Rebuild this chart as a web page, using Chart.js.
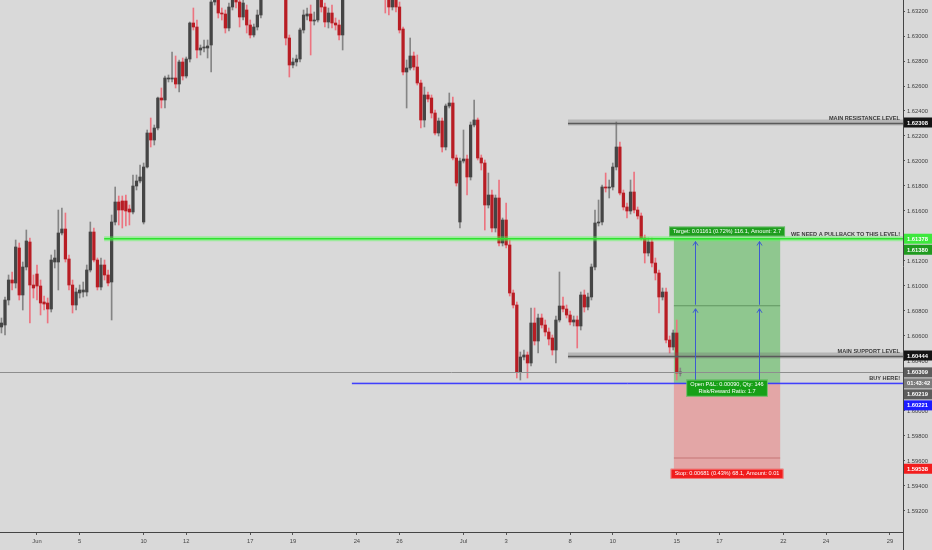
<!DOCTYPE html>
<html>
<head>
<meta charset="utf-8">
<title>4H chart - pullback setup</title>
<script src="https://cdn.jsdelivr.net/npm/chart.js@4.4.1/dist/chart.umd.min.js"></script>
<style>
    html, body { margin: 0; padding: 0; background: #d9d9d9; }
    canvas { display: block; }
</style>
</head>
<body>
<canvas id="chart" width="932" height="550"></canvas>
<script>
// 4H candles, index 0 = first bar of Jun 3, six bars per trading day
const firstIndex = -10;

const opens = [
    1.60672, 1.60688, 1.60888, 1.61048, 1.61024, 1.61304, 1.60928, 1.61152, 1.61352, 1.61008, // -10
    1.61096, 1.61000, 1.60872, 1.60864, 1.60816, 1.61192, 1.61192, 1.61424, 1.61456, 1.61216, // 0
    1.61008, 1.60848, 1.60944, 1.60952, 1.60952, 1.61128, 1.61432, 1.61208, 1.60992, 1.61168, // 10
    1.61088, 1.61032, 1.61512, 1.61672, 1.61680, 1.61680, 1.61616, 1.61592, 1.61800, 1.61840, // 20
    1.61512, 1.61952, 1.62224, 1.62168, 1.62264, 1.62504, 1.62488, 1.62656, 1.62656, 1.62664, // 30
    1.62616, 1.62792, 1.62680, 1.62816, 1.63104, 1.63072, 1.62888, 1.62904, 1.62904, 1.62928, // 40
    1.63272, 1.63320, 1.63184, 1.63176, 1.63064, 1.63232, 1.63304, 1.63272, 1.63152, 1.63208, // 50
    1.63088, 1.63008, 1.63072, 1.63168, 1.63304, 1.63408, 1.63352, 1.63488, 1.63432, 1.63368, // 60
    1.63320, 1.62984, 1.62768, 1.62792, 1.62816, 1.63048, 1.63160, 1.63176, 1.63120, 1.63128, // 70
    1.63288, 1.63232, 1.63112, 1.63184, 1.63104, 1.63088, 1.63008, 1.63312, 1.63408, 1.63496, // 80
    1.63448, 1.63576, 1.63640, 1.63568, 1.63528, 1.63592, 1.63464, 1.63416, 1.63368, 1.63304, // 90
    1.63232, 1.63312, 1.63232, 1.63056, 1.62712, 1.62744, 1.62840, 1.62752, 1.62624, 1.62328, // 100
    1.62528, 1.62504, 1.62384, 1.62224, 1.62320, 1.62112, 1.62440, 1.62464, 1.62024, 1.61512, // 110
    1.62000, 1.62016, 1.61872, 1.62288, 1.62328, 1.62024, 1.61984, 1.61648, 1.61728, 1.61464, // 120
    1.61704, 1.61344, 1.61528, 1.61328, 1.60944, 1.60848, 1.60312, 1.60432, 1.60448, 1.60384, // 130
    1.60704, 1.60560, 1.60744, 1.60688, 1.60632, 1.60584, 1.60488, 1.60728, 1.60840, 1.60816, // 140
    1.60768, 1.60712, 1.60728, 1.60680, 1.60928, 1.60832, 1.60912, 1.61152, 1.61504, 1.61512, // 150
    1.61792, 1.61784, 1.61792, 1.61952, 1.62112, 1.61744, 1.61632, 1.61600, 1.61752, 1.61608, // 160
    1.61560, 1.61384, 1.61264, 1.61352, 1.61184, 1.61104, 1.60912, 1.60952, 1.60568, 1.60512, // 170
    1.60624, 1.60304                                                                          // 180
];
const highs = [
    1.60744, 1.60912, 1.61088, 1.61112, 1.61368, 1.61344, 1.61192, 1.61448, 1.61384, 1.61088,
    1.61168, 1.61048, 1.60920, 1.60904, 1.61248, 1.61288, 1.61608, 1.61624, 1.61584, 1.61248,
    1.61048, 1.60984, 1.61008, 1.61032, 1.61168, 1.61512, 1.61464, 1.61224, 1.61224, 1.61208,
    1.61128, 1.61568, 1.61792, 1.61720, 1.61720, 1.61728, 1.61648, 1.61888, 1.61888, 1.61968,
    1.61984, 1.62248, 1.62344, 1.62288, 1.62512, 1.62584, 1.62680, 1.62688, 1.62872, 1.62840,
    1.62808, 1.62824, 1.62832, 1.63112, 1.63224, 1.63128, 1.62928, 1.62968, 1.62968, 1.63320,
    1.63384, 1.63352, 1.63224, 1.63208, 1.63264, 1.63352, 1.63352, 1.63312, 1.63304, 1.63248,
    1.63128, 1.63096, 1.63208, 1.63368, 1.63448, 1.63464, 1.63528, 1.63544, 1.63464, 1.63408,
    1.63352, 1.63008, 1.62824, 1.62848, 1.63064, 1.63208, 1.63224, 1.63248, 1.63192, 1.63328,
    1.63312, 1.63264, 1.63224, 1.63248, 1.63144, 1.63128, 1.63352, 1.63448, 1.63528, 1.63560,
    1.63608, 1.63672, 1.63688, 1.63648, 1.63624, 1.63640, 1.63528, 1.63480, 1.63408, 1.63328,
    1.63352, 1.63352, 1.63272, 1.63072, 1.62808, 1.62984, 1.62872, 1.62848, 1.62648, 1.62592,
    1.62552, 1.62528, 1.62408, 1.62344, 1.62344, 1.62456, 1.62544, 1.62512, 1.62048, 1.62024,
    1.62248, 1.62048, 1.62312, 1.62488, 1.62344, 1.62048, 1.62008, 1.61904, 1.61768, 1.61728,
    1.61848, 1.61544, 1.61664, 1.61368, 1.60968, 1.60872, 1.60472, 1.60488, 1.60472, 1.60824,
    1.60824, 1.60776, 1.60776, 1.60728, 1.60664, 1.60608, 1.60760, 1.61112, 1.60912, 1.60848,
    1.60800, 1.60760, 1.60760, 1.60952, 1.60968, 1.60944, 1.61176, 1.61608, 1.61688, 1.61808,
    1.61904, 1.61848, 1.61984, 1.62312, 1.62152, 1.61768, 1.61664, 1.61848, 1.61912, 1.61632,
    1.61584, 1.61408, 1.61384, 1.61384, 1.61224, 1.61128, 1.60984, 1.60984, 1.60600, 1.60648,
    1.60728, 1.60344
];
const lows = [
    1.60624, 1.60608, 1.60848, 1.60968, 1.60984, 1.60888, 1.60808, 1.61128, 1.60704, 1.60904,
    1.60888, 1.60768, 1.60808, 1.60704, 1.60792, 1.61144, 1.60968, 1.61408, 1.61192, 1.60968,
    1.60784, 1.60808, 1.60904, 1.60912, 1.60920, 1.61112, 1.61192, 1.60968, 1.60968, 1.61048,
    1.61000, 1.60728, 1.61488, 1.61488, 1.61464, 1.61480, 1.61488, 1.61576, 1.61768, 1.61824,
    1.61496, 1.61944, 1.62112, 1.62128, 1.62248, 1.62424, 1.62424, 1.62632, 1.62632, 1.62584,
    1.62552, 1.62648, 1.62664, 1.62792, 1.63048, 1.62824, 1.62848, 1.62872, 1.62824, 1.62712,
    1.63248, 1.63144, 1.63128, 1.63024, 1.63040, 1.63208, 1.63224, 1.63072, 1.63128, 1.63024,
    1.62984, 1.62992, 1.63048, 1.63144, 1.63296, 1.63320, 1.63328, 1.63384, 1.63336, 1.63304,
    1.62928, 1.62672, 1.62744, 1.62760, 1.62792, 1.63024, 1.63128, 1.62848, 1.63088, 1.63112,
    1.63192, 1.63072, 1.63064, 1.63064, 1.63048, 1.62968, 1.62888, 1.63296, 1.63368, 1.63408,
    1.63416, 1.63528, 1.63544, 1.63488, 1.63448, 1.63432, 1.63384, 1.63312, 1.63184, 1.63168,
    1.63208, 1.63192, 1.63024, 1.62688, 1.62424, 1.62728, 1.62728, 1.62608, 1.62264, 1.62272,
    1.62472, 1.62344, 1.62208, 1.62200, 1.62072, 1.62088, 1.62424, 1.62008, 1.61800, 1.61464,
    1.61984, 1.61728, 1.61848, 1.62272, 1.62008, 1.61928, 1.61448, 1.61624, 1.61432, 1.61432,
    1.61320, 1.61320, 1.61304, 1.60920, 1.60824, 1.60264, 1.60248, 1.60408, 1.60264, 1.60360,
    1.60528, 1.60464, 1.60664, 1.60600, 1.60528, 1.60448, 1.60384, 1.60712, 1.60792, 1.60744,
    1.60688, 1.60680, 1.60504, 1.60648, 1.60792, 1.60808, 1.60888, 1.61128, 1.61480, 1.61488,
    1.61752, 1.61704, 1.61768, 1.61928, 1.61728, 1.61608, 1.61544, 1.61576, 1.61584, 1.61536,
    1.61368, 1.61184, 1.61240, 1.61152, 1.61048, 1.60784, 1.60888, 1.60544, 1.60464, 1.60488,
    1.60248, 1.60280
];
const closes = [
    1.60704, 1.60888, 1.61048, 1.61024, 1.61312, 1.60928, 1.61152, 1.61360, 1.61008, 1.60984,
    1.61000, 1.60864, 1.60856, 1.60816, 1.61208, 1.61224, 1.61424, 1.61456, 1.61216, 1.61008,
    1.60848, 1.60952, 1.60968, 1.60968, 1.61128, 1.61432, 1.61208, 1.60992, 1.61168, 1.61088,
    1.61024, 1.61512, 1.61672, 1.61608, 1.61608, 1.61600, 1.61592, 1.61800, 1.61840, 1.61872,
    1.61952, 1.62224, 1.62168, 1.62264, 1.62504, 1.62488, 1.62664, 1.62664, 1.62664, 1.62616,
    1.62792, 1.62680, 1.62816, 1.63104, 1.63072, 1.62888, 1.62904, 1.62912, 1.62920, 1.63272,
    1.63336, 1.63184, 1.63176, 1.63064, 1.63232, 1.63304, 1.63272, 1.63152, 1.63264, 1.63088,
    1.63008, 1.63072, 1.63168, 1.63304, 1.63408, 1.63352, 1.63488, 1.63432, 1.63368, 1.63320,
    1.62984, 1.62768, 1.62792, 1.62816, 1.63048, 1.63168, 1.63176, 1.63120, 1.63128, 1.63288,
    1.63232, 1.63112, 1.63184, 1.63104, 1.63088, 1.63008, 1.63312, 1.63408, 1.63496, 1.63448,
    1.63576, 1.63640, 1.63568, 1.63528, 1.63592, 1.63464, 1.63416, 1.63368, 1.63304, 1.63232,
    1.63312, 1.63232, 1.63048, 1.62712, 1.62744, 1.62840, 1.62752, 1.62624, 1.62328, 1.62528,
    1.62496, 1.62384, 1.62224, 1.62320, 1.62112, 1.62440, 1.62464, 1.62024, 1.61824, 1.62000,
    1.62016, 1.61872, 1.62288, 1.62328, 1.62024, 1.61984, 1.61648, 1.61728, 1.61464, 1.61704,
    1.61344, 1.61528, 1.61328, 1.60944, 1.60848, 1.60312, 1.60432, 1.60448, 1.60384, 1.60704,
    1.60560, 1.60744, 1.60688, 1.60632, 1.60576, 1.60488, 1.60728, 1.60840, 1.60816, 1.60768,
    1.60712, 1.60728, 1.60680, 1.60928, 1.60832, 1.60912, 1.61152, 1.61504, 1.61512, 1.61792,
    1.61784, 1.61792, 1.61952, 1.62112, 1.61744, 1.61632, 1.61600, 1.61752, 1.61608, 1.61560,
    1.61384, 1.61264, 1.61352, 1.61184, 1.61104, 1.60912, 1.60952, 1.60568, 1.60512, 1.60624,
    1.60304, 1.60309
];

// time axis: bar index of each labelled day and its text
const dateTicks = [0, 12, 30, 42, 60, 72, 90, 102, 120, 132, 150, 162, 180, 192, 210, 222, 240];
const dateLabels = ["Jun", "5", "10", "12", "17", "19", "24", "26", "Jul", "3", "8", "10", "15", "17", "22", "24", "29"];
const priceTicks = [1.592, 1.594, 1.596, 1.598, 1.600, 1.602, 1.604, 1.606, 1.608, 1.610, 1.612,
    1.614, 1.616, 1.618, 1.620, 1.622, 1.624, 1.626, 1.628, 1.630, 1.632];

// drawn levels and the long position
const resistanceLevel = 1.62308;
const pullbackLevel = 1.61378;
const supportLevel = 1.60444;
const lastPrice = 1.60309;
const buyLevel = 1.60221;
const entryPrice = 1.60219;
const targetPrice = 1.61380;
const targetStep = 1.60842;
const stopPrice = 1.59538;
const stopStep = 1.59624;

// where the drawings start (bar index)
const resistanceStart = 149.4;
const supportStart = 149.4;
const pullbackStart = 18.9;
const buyStart = 88.6;
const positionStart = 179.2;
const positionEnd = 209.1;
const arrowBars = [185.1, 203.1];

const axisTags = [
    { price: resistanceLevel, text: "1.62308", bg: "#141414" },
    { price: pullbackLevel, text: "1.61378", bg: "#3de83d" },
    { price: targetPrice, text: "1.61380", bg: "#1f9a1f" },
    { price: supportLevel, text: "1.60444", bg: "#141414" },
    { price: lastPrice, text: "1.60309", bg: "#5c5c5c" },
    { price: lastPrice, text: "01:43:42", bg: "#7b7b7b" },
    { price: entryPrice, text: "1.60219", bg: "#5c5c5c" },
    { price: buyLevel, text: "1.60221", bg: "#1c1cff" },
    { price: stopPrice, text: "1.59538", bg: "#f21d1d" }
];

const bodies = [], wicks = [], bodyColors = [], wickColors = [];
opens.forEach((o, k) => {
    let c = closes[k];
    let up = c >= o;
    bodies.push({ x: firstIndex + k, y: [Math.min(o, c), Math.max(o, c)] });
    wicks.push({ x: firstIndex + k, y: [lows[k], highs[k]] });
    bodyColors.push(up ? "#454545" : "#b81d24");
    wickColors.push(up ? "#858585" : "#ec7480");
});

function hline(ctx, x0, x1, yy, color, width) {
    ctx.strokeStyle = color;
    ctx.lineWidth = width;
    ctx.beginPath();
    ctx.moveTo(x0, yy);
    ctx.lineTo(x1, yy);
    ctx.stroke();
}

function arrowUp(ctx, xx, yFrom, yTo) {
    ctx.strokeStyle = "#3d5bd0";
    ctx.lineWidth = 1;
    ctx.beginPath();
    ctx.moveTo(xx, yFrom);
    ctx.lineTo(xx, yTo);
    ctx.moveTo(xx - 2.5, yTo + 4);
    ctx.lineTo(xx, yTo);
    ctx.lineTo(xx + 2.5, yTo + 4);
    ctx.stroke();
}

function labelBox(ctx, cx, top, lines, bg) {
    ctx.font = '5.6px "Liberation Sans"';
    let w = Math.max(...lines.map(t => ctx.measureText(t).width)) + 8;
    let h = lines.length * 7 + 3;
    ctx.fillStyle = bg;
    ctx.fillRect(cx - w / 2, top, w, h);
    ctx.strokeStyle = "rgba(255,255,255,0.5)";
    ctx.lineWidth = 0.6;
    ctx.strokeRect(cx - w / 2 + 0.5, top + 0.5, w - 1, h - 1);
    ctx.fillStyle = "#ffffff";
    ctx.textAlign = "center";
    ctx.textBaseline = "middle";
    lines.forEach((t, n) => ctx.fillText(t, cx, top + 5 + n * 7));
}

const overlay = {
    id: "overlay",
    beforeDraw(chart) {
        let c = chart.ctx;
        c.save();
        c.fillStyle = "#d9d9d9";
        c.fillRect(0, 0, chart.width, chart.height);
        c.restore();
    },
    beforeDatasetsDraw(chart) {
        const { ctx, scales: { x, y } } = chart;
        let x0 = x.getPixelForValue(positionStart), x1 = x.getPixelForValue(positionEnd);
        let yT = y.getPixelForValue(targetPrice), yE = y.getPixelForValue(entryPrice), yS = y.getPixelForValue(stopPrice);
        ctx.save();
        ctx.fillStyle = "rgba(70,182,70,0.5)";
        ctx.fillRect(x0, yT, x1 - x0, yE - yT);
        ctx.fillStyle = "rgba(240,96,96,0.42)";
        ctx.fillRect(x0, yE, x1 - x0, yS - yE);
        hline(ctx, x0, x1, y.getPixelForValue(targetStep), "rgba(60,110,60,0.55)", 1);
        hline(ctx, x0, x1, y.getPixelForValue(stopStep), "rgba(170,70,70,0.5)", 1);
        ctx.restore();
    },
    afterDatasetsDraw(chart) {
        const { ctx, chartArea: a, scales: { x, y } } = chart;
        const R = a.right;
        ctx.save();
        ctx.beginPath();
        ctx.rect(a.left, a.top, a.width, a.height);
        ctx.clip();

        hline(ctx, a.left, R, Math.round(y.getPixelForValue(lastPrice)) + 0.5, "#8e8e8e", 1);

        let yy = y.getPixelForValue(resistanceLevel);
        hline(ctx, x.getPixelForValue(resistanceStart), R, yy, "rgba(110,110,110,0.32)", 6);
        hline(ctx, x.getPixelForValue(resistanceStart), R, yy + 1, "#5a5a5a", 1.4);
        yy = y.getPixelForValue(supportLevel);
        hline(ctx, x.getPixelForValue(supportStart), R, yy, "rgba(110,110,110,0.32)", 6);
        hline(ctx, x.getPixelForValue(supportStart), R, yy + 1, "#5a5a5a", 1.4);

        yy = y.getPixelForValue(pullbackLevel);
        hline(ctx, x.getPixelForValue(pullbackStart), R, yy, "rgba(80,255,80,0.45)", 5);
        hline(ctx, x.getPixelForValue(pullbackStart), R, yy, "#2fe22f", 1.5);

        yy = y.getPixelForValue(buyLevel);
        hline(ctx, x.getPixelForValue(buyStart), R, yy, "rgba(80,80,255,0.25)", 3);
        hline(ctx, x.getPixelForValue(buyStart), R, yy, "#3030ff", 1);

        let yT = y.getPixelForValue(targetPrice), yE = y.getPixelForValue(entryPrice);
        let yM = y.getPixelForValue(targetStep), yS = y.getPixelForValue(stopPrice);
        arrowBars.forEach(b => {
            let xx = Math.round(x.getPixelForValue(b)) + 0.5;
            arrowUp(ctx, xx, yE, yM + 3);
            arrowUp(ctx, xx, yM - 1, yT + 3);
        });

        ctx.font = 'bold 5.6px "Liberation Sans"';
        ctx.fillStyle = "#3a3a3a";
        ctx.textAlign = "right";
        ctx.textBaseline = "alphabetic";
        ctx.fillText("MAIN RESISTANCE LEVEL", R - 3, y.getPixelForValue(resistanceLevel) - 3);
        ctx.fillText("WE NEED A PULLBACK TO THIS LEVEL!", R - 3, y.getPixelForValue(pullbackLevel) - 2.5);
        ctx.fillText("MAIN SUPPORT LEVEL", R - 3, y.getPixelForValue(supportLevel) - 3);
        ctx.fillText("BUY HERE!", R - 3, y.getPixelForValue(buyLevel) - 3);

        let cx = (x.getPixelForValue(positionStart) + x.getPixelForValue(positionEnd)) / 2;
        labelBox(ctx, cx, yT - 12, ["Target: 0.01161 (0.72%) 116.1, Amount: 2.7"], "#1e9e1e");
        labelBox(ctx, cx, yE - 4, ["Open P&L: 0.00090, Qty: 146", "Risk/Reward Ratio: 1.7"], "#17a017");
        labelBox(ctx, cx, yS, ["Stop: 0.00681 (0.43%) 68.1, Amount: 0.01"], "#f01c1c");
        ctx.restore();
    },
    afterDraw(chart) {
        const { ctx, chartArea: a, scales: { y } } = chart;
        ctx.save();
        ctx.strokeStyle = "#444";
        ctx.lineWidth = 1;
        ctx.beginPath();
        ctx.moveTo(a.right + 0.5, a.bottom);
        ctx.lineTo(a.right + 0.5, chart.height);
        ctx.stroke();

        ctx.font = 'bold 5.8px "Liberation Sans"';
        ctx.textAlign = "left";
        ctx.textBaseline = "middle";
        let prev = -Infinity;
        axisTags.forEach(t => {
            let cy = Math.max(y.getPixelForValue(t.price), prev + 11);
            prev = cy;
            ctx.fillStyle = t.bg;
            ctx.fillRect(a.right + 1, cy - 5, chart.width - a.right - 1, 10);
            ctx.fillStyle = "#ffffff";
            ctx.fillText(t.text, a.right + 4, cy + 0.5);
        });
        ctx.restore();
    }
};

Chart.defaults.font.family = '"Liberation Sans", Arial, sans-serif';

new Chart(document.getElementById("chart"), {
    type: "bar",
    data: {
        datasets: [
            {
                data: wicks,
                backgroundColor: wickColors,
                barThickness: 1,
                grouped: false,
                order: 2
            },
            {
                data: bodies,
                backgroundColor: bodyColors,
                barThickness: 2.6,
                minBarLength: 1,
                grouped: false,
                order: 1
            }
        ]
    },
    options: {
        responsive: false,
        animation: false,
        events: [],
        layout: { padding: 0 },
        plugins: { legend: { display: false }, tooltip: { enabled: false } },
        scales: {
            x: {
                type: "linear",
                min: -10.41,
                max: 243.66,
                offset: false,
                afterBuildTicks: s => { s.ticks = dateTicks.map(v => ({ value: v })); },
                afterFit: s => { s.height = 18; s.paddingLeft = 0; s.paddingRight = 0; },
                grid: { display: true, offset: false, drawOnChartArea: false, drawTicks: true, tickLength: 3, tickColor: "#555" },
                border: { display: true, color: "#444", width: 1 },
                ticks: {
                    autoSkip: false,
                    maxRotation: 0,
                    minRotation: 0,
                    padding: 3,
                    color: "#474747",
                    font: { size: 5.8 },
                    callback: v => dateLabels[dateTicks.indexOf(v)]
                }
            },
            y: {
                type: "linear",
                position: "right",
                min: 1.59032,
                max: 1.63288,
                afterBuildTicks: s => { s.ticks = priceTicks.map(v => ({ value: v })); },
                afterFit: s => { s.width = 29; s.paddingTop = 0; s.paddingBottom = 0; },
                grid: { display: true, drawOnChartArea: false, drawTicks: true, tickLength: 2, tickColor: "#555" },
                border: { display: true, color: "#444", width: 1 },
                ticks: {
                    padding: 2,
                    color: "#404040",
                    font: { size: 5.8 },
                    callback: v => v.toFixed(5)
                }
            }
        }
    },
    plugins: [overlay]
});
</script>
</body>
</html>
